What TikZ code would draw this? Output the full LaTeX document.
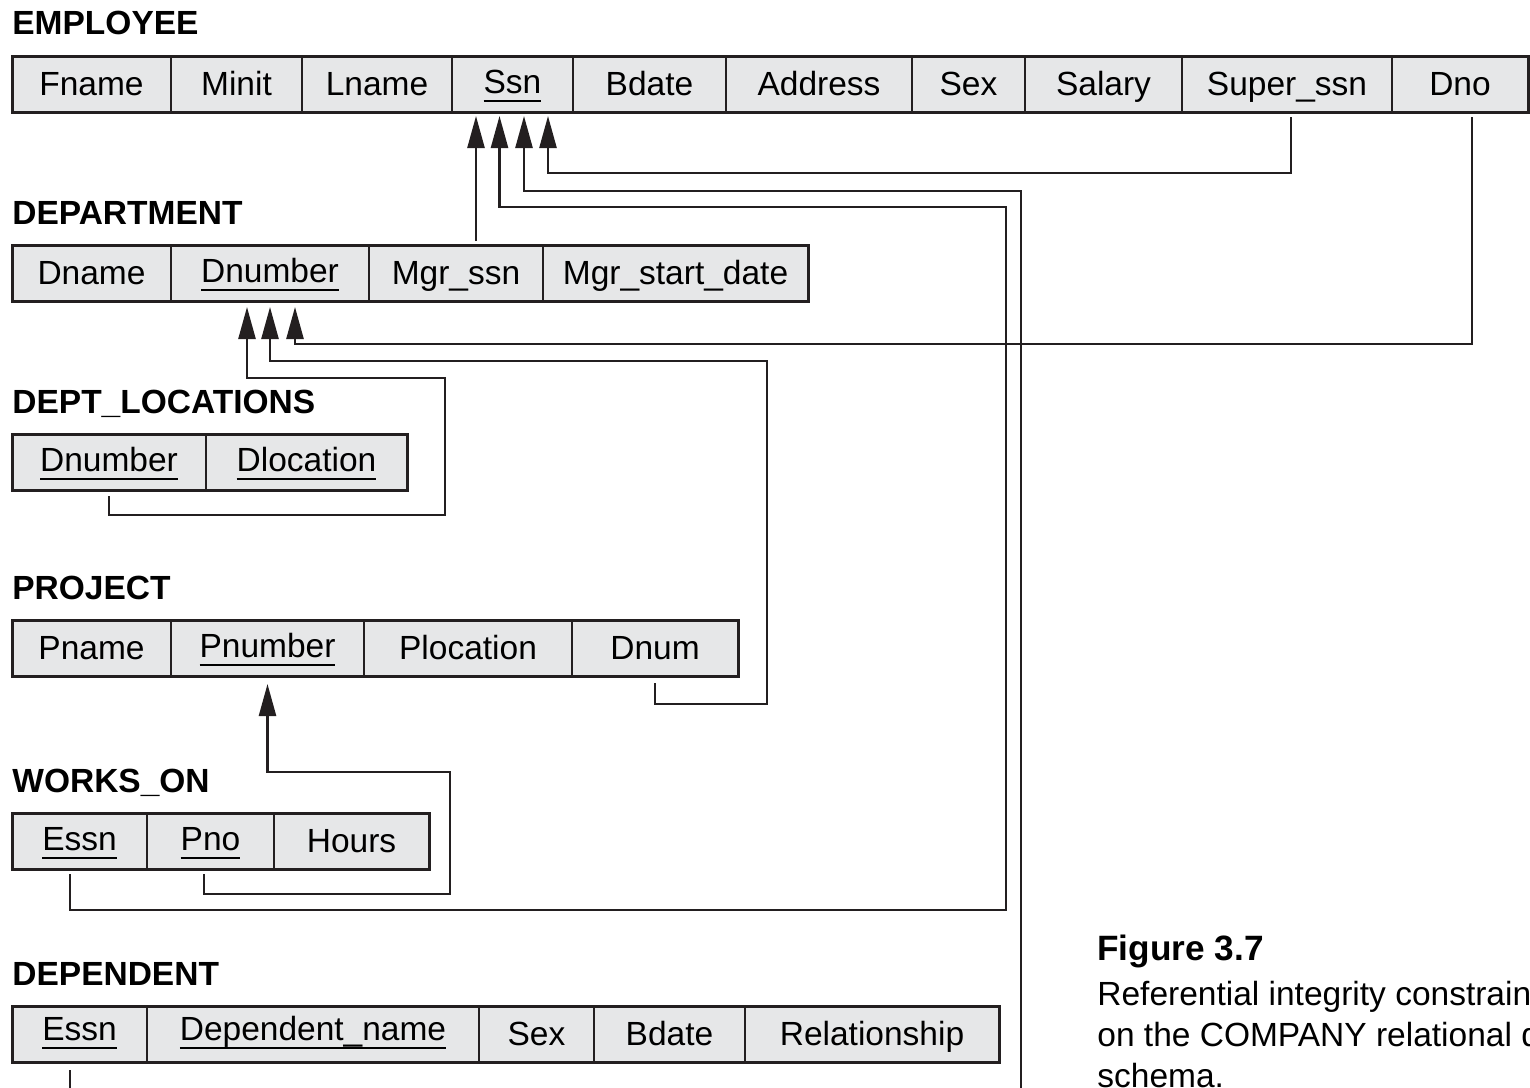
\documentclass[tikz,border=0pt]{standalone}
\usepackage{fontspec}
\setmainfont{Liberation Sans}
\usetikzlibrary{arrows.meta,positioning,calc}
\definecolor{cellgray}{HTML}{E6E7E8}
\definecolor{inkblack}{HTML}{231F20}
\newcommand{\pk}[1]{\raisebox{1.25pt}{\vtop{\hbox{\smash{#1}}\kern3.4pt\hrule height 1.2pt}}}

\begin{document}
\begin{tikzpicture}[
    x=0.5pt, y=-0.5pt,
    font=\fontsize{16.75pt}{20.5pt}\selectfont,
    attr/.style={draw=inkblack, line width=0.9pt, fill=cellgray, minimum width=#1*0.5pt, minimum height=28pt, inner sep=0pt, outer sep=0pt, text height=12.5pt, text depth=1pt},
    rel/.style={anchor=base west, inner sep=0pt, font=\fontsize{16.75pt}{20.5pt}\selectfont\bfseries},
    capline/.style={anchor=base west, inner sep=0pt},
    frame/.style={draw=inkblack, line width=1.5pt},
    fk/.style={-{Triangle[length=16pt, width=8.5pt]}, line width=1.25pt, draw=inkblack}
]
\useasboundingbox (0,0) rectangle (1530,1087);
\clip (0,0) rectangle (1530,1087);

\node[rel] (employee) at (12,34) {EMPLOYEE};
\node[attr=159, anchor=north west] (fname) at (12,56) {Fname};
\node[attr=131, right=0pt of fname] (minit) {Minit};
\node[attr=150, right=0pt of minit] (lname) {Lname};
\node[attr=121, right=0pt of lname] (ssn) {\pk{Ssn}};
\node[attr=153, right=0pt of ssn] (bdate) {Bdate};
\node[attr=186, right=0pt of bdate] (address) {Address};
\node[attr=113, right=0pt of address] (sex) {Sex};
\node[attr=157, right=0pt of sex] (salary) {Salary};
\node[attr=210, right=0pt of salary] (superssn) {Super\_ssn};
\node[attr=136, right=0pt of superssn] (dno) {Dno};
\draw[frame] (fname.north west) rectangle (dno.south east);

\node[rel] (department) at (12,224) {DEPARTMENT};
\node[attr=159, anchor=north west] (dname) at (12,245) {Dname};
\node[attr=198, right=0pt of dname] (dnumber) {\pk{Dnumber}};
\node[attr=174, right=0pt of dnumber] (mgrssn) {Mgr\_ssn};
\node[attr=265, right=0pt of mgrssn] (mgrstart) {Mgr\_start\_date};
\draw[frame] (dname.north west) rectangle (mgrstart.south east);

\node[rel] (deptlocations) at (12,413) {DEPT\_LOCATIONS};
\node[attr=194, anchor=north west] (dldnumber) at (12,434) {\pk{Dnumber}};
\node[attr=201, right=0pt of dldnumber] (dlocation) {\pk{Dlocation}};
\draw[frame] (dldnumber.north west) rectangle (dlocation.south east);

\node[rel] (project) at (12,599) {PROJECT};
\node[attr=159, anchor=north west] (pname) at (12,620) {Pname};
\node[attr=193, right=0pt of pname] (pnumber) {\pk{Pnumber}};
\node[attr=208, right=0pt of pnumber] (plocation) {Plocation};
\node[attr=166, right=0pt of plocation] (dnum) {Dnum};
\draw[frame] (pname.north west) rectangle (dnum.south east);

\node[rel] (workson) at (12,792) {WORKS\_ON};
\node[attr=135, anchor=north west] (woessn) at (12,813) {\pk{Essn}};
\node[attr=127, right=0pt of woessn] (pno) {\pk{Pno}};
\node[attr=155, right=0pt of pno] (hours) {Hours};
\draw[frame] (woessn.north west) rectangle (hours.south east);

\node[rel] (dependent) at (12,985) {DEPENDENT};
\node[attr=135, anchor=north west] (depessn) at (12,1006) {\raisebox{1.5pt}{\pk{Essn}}};
\node[attr=332, right=0pt of depessn] (depname) {\raisebox{1.5pt}{\pk{Dependent\_name}}};
\node[attr=115, right=0pt of depname] (depsex) {Sex};
\node[attr=151, right=0pt of depsex] (depbdate) {Bdate};
\node[attr=254, right=0pt of depbdate] (relationship) {Relationship};
\draw[frame] (depessn.north west) rectangle (relationship.south east);

\node[rel, font=\fontsize{17.6pt}{21pt}\selectfont\bfseries] (figlabel) at (1097,960) {Figure 3.7};
\node[capline] (figline1) at (1097,1005) {Referential integrity constraints displayed};
\node[capline] (figline2) at (1097,1046) {on the COMPANY relational database};
\node[capline] (figline3) at (1097,1087) {schema.};

\draw[fk] ($(mgrssn.north)+(20,-4)$) -- ($(ssn.south)+(-36.5,4)$);
\draw[fk] ($(woessn.south)+(-9.5,5)$) |- ($(woessn.south)+(926.5,41)$) |- ($(ssn.south)+(-13,95)$) -- ($(ssn.south)+(-13,4)$);
\draw[fk] ($(depessn.south)+(-9.5,8)$) |- ($(depessn.south)+(941.5,50)$) |- ($(ssn.south)+(11.5,79)$) -- ($(ssn.south)+(11.5,4)$);
\draw[fk] ($(superssn.south)+(4,5)$) |- ($(ssn.south)+(35.5,61)$) -- ($(ssn.south)+(35.5,4)$);
\draw[fk] ($(dno.south)+(12,5)$) |- ($(dnumber.south)+(25,43)$) -- ($(dnumber.south)+(25,6)$);
\draw[fk] ($(dnum.south)+(0,7)$) |- ($(dnum.south)+(112,28)$) |- ($(dnumber.south)+(0,60)$) -- ($(dnumber.south)+(0,6)$);
\draw[fk] ($(dldnumber.south)+(0,6)$) |- ($(dldnumber.south)+(336,25)$) |- ($(dnumber.south)+(-23,77)$) -- ($(dnumber.south)+(-23,6)$);
\draw[fk] ($(pno.south)+(-6.5,5)$) |- ($(pno.south)+(239.5,25)$) |- ($(pnumber.south)+(0,96)$) -- ($(pnumber.south)+(0,8)$);
\end{tikzpicture}
\end{document}
